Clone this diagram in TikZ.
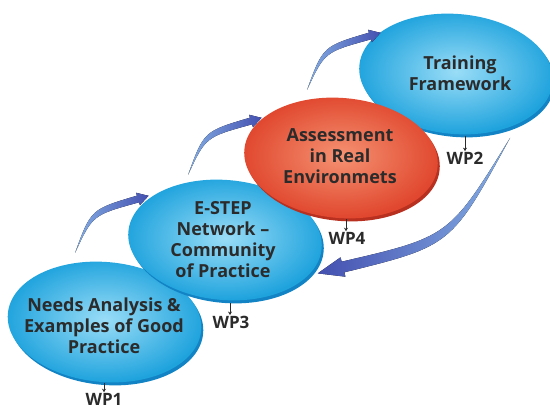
\documentclass[tikz,border=0pt]{standalone}
\usepackage{fontspec}
\setmainfont{Open Sans}
\usetikzlibrary{shapes.geometric,calc,arrows.meta}
\definecolor{bluein}{HTML}{9ADDF7}
\definecolor{blueout}{HTML}{1FA3DD}
\definecolor{bluerim}{HTML}{1283C4}
\definecolor{redin}{HTML}{F59272}
\definecolor{redout}{HTML}{E0472E}
\definecolor{redrim}{HTML}{B8301F}
\definecolor{txt}{HTML}{2B2B2B}
\definecolor{arlight}{HTML}{84AEE4}
\definecolor{ardark}{HTML}{4450B0}
% tapered curved arrow: tail, control, head base, body half width, head half width, head length, options
\newcommand\tarrow[7]{%
  \fill[#7] (#1) .. controls ($(#2)!#4*1.1!90:(#3)$) .. ($(#3)!#4!-90:(#2)$)
    -- ($(#3)!#5!-90:(#2)$) -- ($(#3)!-#6!(#2)$) -- ($(#3)!#5!90:(#2)$)
    -- ($(#3)!#4!90:(#2)$) .. controls ($(#2)!#4*0.6!-90:(#3)$) .. (#1) -- cycle;}
\tikzset{
  ell/.style={ellipse, minimum width=194pt, minimum height=120pt, inner sep=0pt, rotate=-5},
  blueball/.style={ell, inner color=bluein, outer color=blueout},
  redball/.style={ell, inner color=redin, outer color=redout},
  bluerimst/.style={ell, fill=bluerim},
  redrimst/.style={ell, fill=redrim},
  lbl/.style={align=center, text=txt, font=\fontsize{18}{21}\selectfont\bfseries},
  wp/.style={text=txt, font=\fontsize{17}{18}\selectfont\bfseries, inner sep=0.5pt},
  wparrow/.style={draw=txt, line width=0.8pt, -{Stealth[length=3.5pt,width=4pt]}},
}
\begin{document}
\begin{tikzpicture}[x=1pt,y=-1pt]
\useasboundingbox (0,0) rectangle (550,409);
\fill[white] (0,0) rectangle (550,409);
\clip (0,0) rectangle (550,409);

% ellipses (back to front)
\node[bluerimst] (r1) at (106.5,325) {};
\node[blueball] (e1) at (104.5,322) {};
\node[bluerimst] (r2) at (227,243) {};
\node[blueball] (e2) at (225,240) {};
\node[bluerimst] (r4) at (458,77) {};
\node[blueball] (e4) at (456,74) {};
\node[redrimst] (r3) at (343,161) {};
\node[redball] (e3) at (341,158) {};

% texts
\node[lbl] (t1) at (104,326) {Needs Analysis \&\\Examples of Good\\Practice};
\node[lbl] (t2) at (223,240) {E-STEP\\Network –\\Community\\of Practice};
\node[lbl] (t3) at (340,156) {Assessment\\in Real\\Environmets};
\node[lbl] (t4) at (460,73) {Training\\Framework};

% WP labels
\node[wp] (wp1) at (104,399) {WP1};
\node[wp] (wp2) at (465,158) {WP2};
\node[wp] (wp3) at (231,322) {WP3};
\node[wp] (wp4) at (347,238) {WP4};
\coordinate (a1) at (104,383);
\coordinate (a2) at (465,136);
\coordinate (a3) at (230,303);
\coordinate (a4) at (346,219);
\draw[wparrow] (a1) -- (wp1.north -| a1);
\draw[wparrow] (a2) -- (wp2.north -| a2);
\draw[wparrow] (a3) -- (wp3.north -| a3);
\draw[wparrow] (a4) -- (wp4.north -| a4);

% curved arrows
\coordinate (p1) at (75,253);  \coordinate (c1) at (92,213);  \coordinate (b1) at (138,199);
\coordinate (p2) at (188,175); \coordinate (c2) at (205,135); \coordinate (b2) at (251,121);
\coordinate (p3) at (307,90);  \coordinate (c3) at (324,50);  \coordinate (b3) at (370,36);
\coordinate (p4) at (510,138); \coordinate (c4) at (450,240); \coordinate (b4) at (343,267);
\tarrow{p1}{c1}{b1}{3.5pt}{6.5pt}{11pt}{left color=arlight, right color=ardark}
\tarrow{p2}{c2}{b2}{3.5pt}{6.5pt}{11pt}{left color=arlight, right color=ardark}
\tarrow{p3}{c3}{b3}{3.5pt}{6.5pt}{11pt}{left color=arlight, right color=ardark}
\tarrow{p4}{c4}{b4}{5.5pt}{10pt}{26pt}{left color=ardark, right color=arlight}
\end{tikzpicture}
\end{document}
